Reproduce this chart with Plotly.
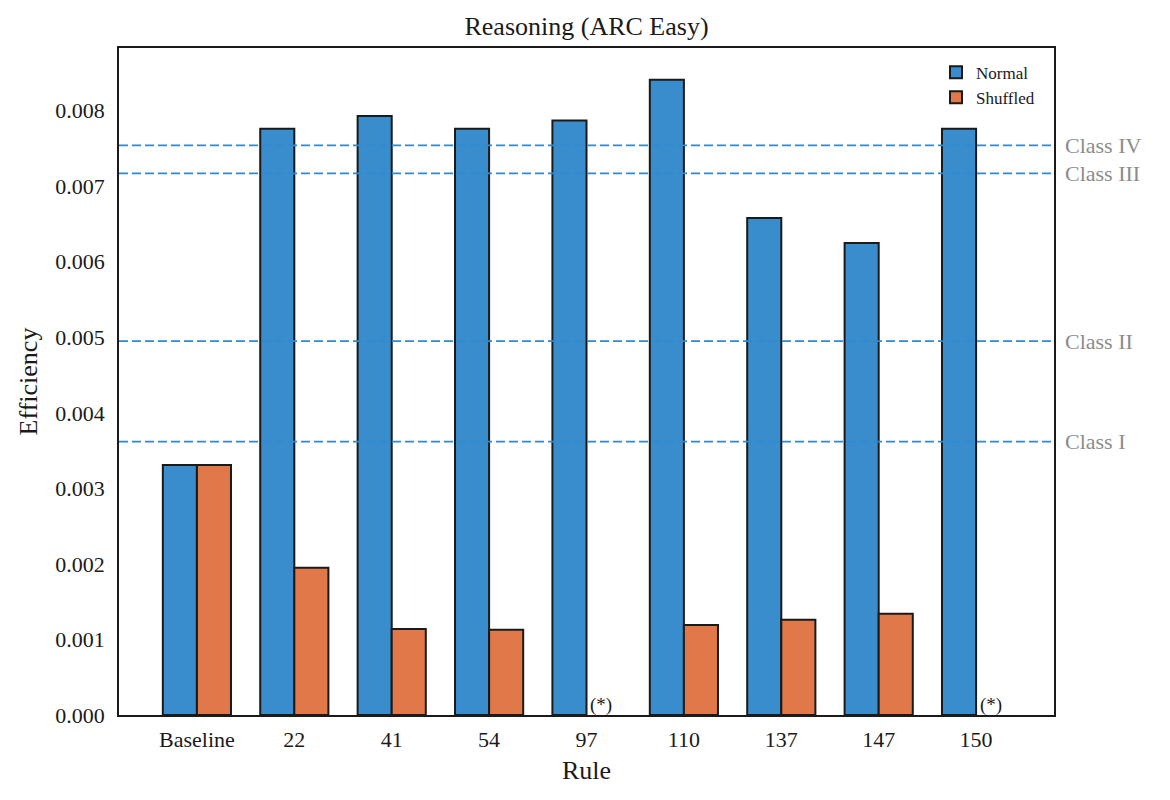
import plotly.graph_objects as go

rules = ['Baseline', '22', '41', '54', '97', '110', '137', '147', '150']
normal = [0.00331, 0.00776, 0.00793, 0.00776, 0.00787, 0.00841, 0.00658, 0.00625, 0.00776]
shuffled = [0.00331, 0.00195, 0.00114, 0.00113, None, 0.00119, 0.00126, 0.00134, None]
missing = ['97', '150']

class_names = ['Class I', 'Class II', 'Class III', 'Class IV']
class_values = [0.00362, 0.00495, 0.00717, 0.00754]

font_family = "Liberation Serif, DejaVu Serif, serif"
x = list(range(len(rules)))

fig = go.Figure()
fig.add_trace(go.Bar(
  x=x, y=normal, name='Normal',
  marker=dict(color='#3a8dcc', line=dict(color='#1a1a1a', width=2)),
  offset=-0.35, width=0.35
))
fig.add_trace(go.Bar(
  x=x, y=shuffled, name='Shuffled',
  marker=dict(color='#e0784a', line=dict(color='#1a1a1a', width=2)),
  offset=0.0, width=0.35
))

for name, val in zip(class_names, class_values):
  fig.add_shape(type='line', xref='paper', x0=0, x1=1, y0=val, y1=val,
                line=dict(color='#2f8ad0', width=1.7, dash='9px,4px'))
  fig.add_annotation(xref='paper', x=1.01, y=val, text=name, showarrow=False,
                     xanchor='left', yanchor='middle',
                     font=dict(family=font_family, size=22, color='#8c8c8c'))

for r in missing:
  i = rules.index(r)
  fig.add_annotation(x=i + 0.15, y=0, text='(*)', showarrow=False,
                     yanchor='bottom', yshift=-3,
                     font=dict(family=font_family, size=19, color='#1a1a1a'))

fig.update_layout(
  width=1170, height=800,
  plot_bgcolor='white', paper_bgcolor='white',
  margin=dict(l=111, r=124, t=40, b=93),
  font=dict(family=font_family, size=22, color='#1a1a1a'),
  title=dict(text='Reasoning (ARC Easy)', x=0.5, xref='paper', y=0.978, yanchor='middle',
             font=dict(size=26)),
  legend=dict(x=0.985, y=0.99, xanchor='right', yanchor='top',
              bgcolor='rgba(0,0,0,0)', font=dict(size=17)),
  xaxis=dict(
    tickmode='array', tickvals=x, ticktext=rules, range=[-0.8, 8.8],
    showgrid=False, zeroline=False, showline=True, mirror=True,
    linecolor='#1a1a1a', linewidth=1.5, ticks='outside', ticklen=4, tickcolor='white',
    title=dict(text='Rule', font=dict(size=26), standoff=10),
  ),
  yaxis=dict(
    range=[0, 0.00883], tickvals=[0, 0.001, 0.002, 0.003, 0.004, 0.005, 0.006, 0.007, 0.008],
    tickformat='.3f', showgrid=False, zeroline=False, showline=True, mirror=True,
    linecolor='#1a1a1a', linewidth=1.5, ticks='outside', ticklen=8, tickcolor='white',
    title=dict(text='Efficiency', font=dict(size=26), standoff=10),
  ),
)

fig.write_html("out.html")
